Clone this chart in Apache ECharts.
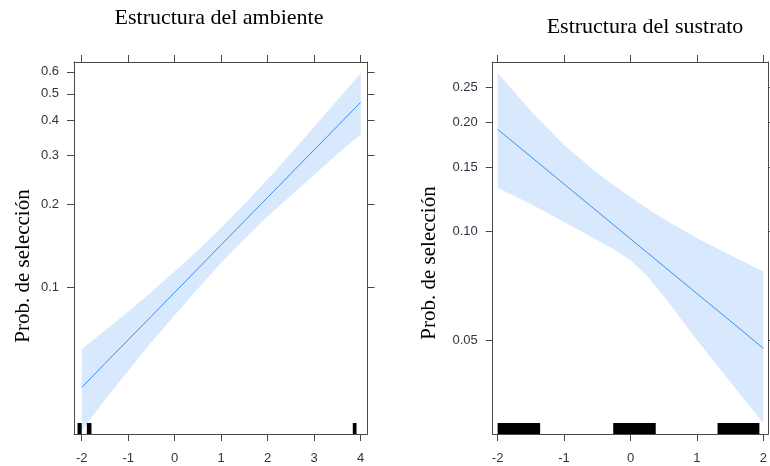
<!DOCTYPE html>
<html>
<head>
<meta charset="utf-8">
<script src="https://cdn.jsdelivr.net/npm/echarts@6/dist/echarts.min.js"></script>
<style>
  html, body { margin: 0; padding: 0; background: #fff; }
  #chart { width: 770px; height: 466px; }
</style>
</head>
<body>
<div id="chart"></div>
<script>
// panel 1: Estructura del ambiente
var ambX = [-2, -1.5, -1, -0.5, 0, 0.5, 1, 1.5, 2, 2.5, 3, 3.5, 4];
var ambFit = [0.0437, 0.0533, 0.0649, 0.0790, 0.0962, 0.1172, 0.1428, 0.1739, 0.2118, 0.2579, 0.3141, 0.3825, 0.4658];
var ambLower = [0.0306, 0.0395, 0.0502, 0.0637, 0.0795, 0.0993, 0.1230, 0.1497, 0.1809, 0.2148, 0.2552, 0.3032, 0.3572];
var ambUpper = [0.0600, 0.0701, 0.0819, 0.0965, 0.1146, 0.1361, 0.1644, 0.2002, 0.2459, 0.3044, 0.3801, 0.4746, 0.5926];
var ambRugStart = [-2.09, -1.89, 3.83];
var ambRugEnd = [-2.0, -1.79, 3.91];
var ambXTicks = [-2, -1, 0, 1, 2, 3, 4];
var ambYTicks = [0.1, 0.2, 0.3, 0.4, 0.5, 0.6];

// panel 2: Estructura del sustrato
var susX = [-2, -1.5, -1, -0.5, -0.25, 0, 0.25, 0.5, 1, 1.5, 2];
var susFit = [0.1913, 0.1608, 0.1351, 0.1136, 0.1041, 0.0954, 0.0875, 0.0802, 0.0674, 0.0567, 0.0476];
var susLower = [0.1320, 0.1191, 0.1062, 0.0947, 0.0892, 0.0834, 0.0754, 0.0664, 0.0502, 0.0385, 0.0296];
var susUpper = [0.2740, 0.2149, 0.1732, 0.1450, 0.1339, 0.1245, 0.1157, 0.1082, 0.0959, 0.0861, 0.0775];
var susRugStart = [-2.0, -0.26, 1.31];
var susRugEnd = [-1.36, 0.38, 1.94];
var susXTicks = [-2, -1, 0, 1, 2];
var susYTicks = [0.05, 0.10, 0.15, 0.20, 0.25];

var chart = echarts.init(document.getElementById('chart'));

var lineColor = '#3a8ff0';
var bandColor = '#d8e8fd';
var boxColor = '#4a4a4a';
var labelFont = { fontFamily: 'Liberation Sans', fontSize: 13, color: '#333340' };

function xAx(grid, pos, min, max, ticks) {
    return {
        gridIndex: grid, type: 'value', position: pos, min: min, max: max,
        axisLine: { show: true, onZero: false, lineStyle: { color: boxColor, width: 1 } },
        axisTick: { show: true, inside: false, length: 7, customValues: ticks, lineStyle: { color: boxColor } },
        axisLabel: Object.assign({ show: pos === 'bottom', customValues: ticks, margin: 18 }, labelFont),
        splitLine: { show: false }
    };
}

function yAx(grid, pos, min, max, ticks, digits) {
    return {
        gridIndex: grid, type: 'log', logBase: 10, position: pos, min: min, max: max,
        axisLine: { show: true, onZero: false, lineStyle: { color: boxColor, width: 1 } },
        axisTick: { show: true, inside: false, length: 7, customValues: ticks, lineStyle: { color: boxColor } },
        axisLabel: Object.assign({
            show: pos === 'left', customValues: ticks, margin: 15,
            formatter: function (v) { return Number(v).toFixed(digits); }
        }, labelFont),
        splitLine: { show: false },
        minorTick: { show: false }
    };
}

// confidence band drawn as one polygon (upper edge forward, lower edge back)
function bandSeries(xs, lo, hi, axisIdx) {
    return {
        type: 'custom', xAxisIndex: axisIdx, yAxisIndex: axisIdx, silent: true, z: 1,
        data: xs.map(function (x, i) { return [x, lo[i], hi[i]]; }),
        renderItem: function (params, api) {
            if (params.dataIndex !== 0) return;
            var pts = [];
            for (var i = 0; i < xs.length; i++) pts.push(api.coord([xs[i], hi[i]]));
            for (var j = xs.length - 1; j >= 0; j--) pts.push(api.coord([xs[j], lo[j]]));
            return { type: 'polygon', shape: { points: pts }, style: { fill: bandColor } };
        }
    };
}

function fitSeries(xs, fit, axisIdx) {
    return {
        type: 'line', xAxisIndex: axisIdx, yAxisIndex: axisIdx, silent: true, z: 3,
        symbol: 'none', animation: false,
        lineStyle: { color: lineColor, width: 1 },
        data: xs.map(function (x, i) { return [x, fit[i]]; })
    };
}

function rugSeries(starts, ends, yMin, axisIdx) {
    return {
        type: 'custom', xAxisIndex: axisIdx, yAxisIndex: axisIdx, silent: true, z: 4,
        encode: { x: [0, 1], y: 2 },
        data: starts.map(function (s, i) { return [s, ends[i], yMin]; }),
        renderItem: function (params, api) {
            var p0 = api.coord([api.value(0), api.value(2)]);
            var p1 = api.coord([api.value(1), api.value(2)]);
            return {
                type: 'rect',
                shape: { x: p0[0], y: p0[1] - 11, width: p1[0] - p0[0], height: 11 },
                style: { fill: '#000' }
            };
        }
    };
}

var ambYMin = 0.0297, ambYMax = 0.651;
var susYMin = 0.02764, susYMax = 0.2933;

var option = {
    animation: false,
    grid: [
        { left: 74, top: 62, right: 402.5, bottom: 32 },
        { left: 492.7, top: 62, right: -3.6, bottom: 32 }
    ],
    xAxis: [
        xAx(0, 'bottom', -2.166, 4.146, ambXTicks),
        xAx(0, 'top', -2.166, 4.146, ambXTicks),
        xAx(1, 'bottom', -2.074, 2.074, susXTicks),
        xAx(1, 'top', -2.074, 2.074, susXTicks)
    ],
    yAxis: [
        yAx(0, 'left', ambYMin, ambYMax, ambYTicks, 1),
        yAx(0, 'right', ambYMin, ambYMax, ambYTicks, 1),
        yAx(1, 'left', susYMin, susYMax, susYTicks, 2),
        yAx(1, 'right', susYMin, susYMax, susYTicks, 2)
    ],
    series: [
        bandSeries(ambX, ambLower, ambUpper, 0),
        fitSeries(ambX, ambFit, 0),
        rugSeries(ambRugStart, ambRugEnd, ambYMin, 0),
        bandSeries(susX, susLower, susUpper, 2),
        fitSeries(susX, susFit, 2),
        rugSeries(susRugStart, susRugEnd, susYMin, 2)
    ],
    graphic: [
        {
            type: 'text', x: 219, y: 18,
            style: { text: 'Estructura del ambiente', font: '22px "Liberation Serif"', fill: '#000', align: 'center', verticalAlign: 'middle' }
        },
        {
            type: 'text', x: 645, y: 27,
            style: { text: 'Estructura del sustrato', font: '22px "Liberation Serif"', fill: '#000', align: 'center', verticalAlign: 'middle' }
        },
        {
            type: 'text', x: 23, y: 266, rotation: Math.PI / 2,
            style: { text: 'Prob. de selección', font: '21px "Liberation Serif"', fill: '#000', align: 'center', verticalAlign: 'middle' }
        },
        {
            type: 'text', x: 429, y: 263, rotation: Math.PI / 2,
            style: { text: 'Prob. de selección', font: '21px "Liberation Serif"', fill: '#000', align: 'center', verticalAlign: 'middle' }
        }
    ]
};

chart.setOption(option);
</script>
</body>
</html>
